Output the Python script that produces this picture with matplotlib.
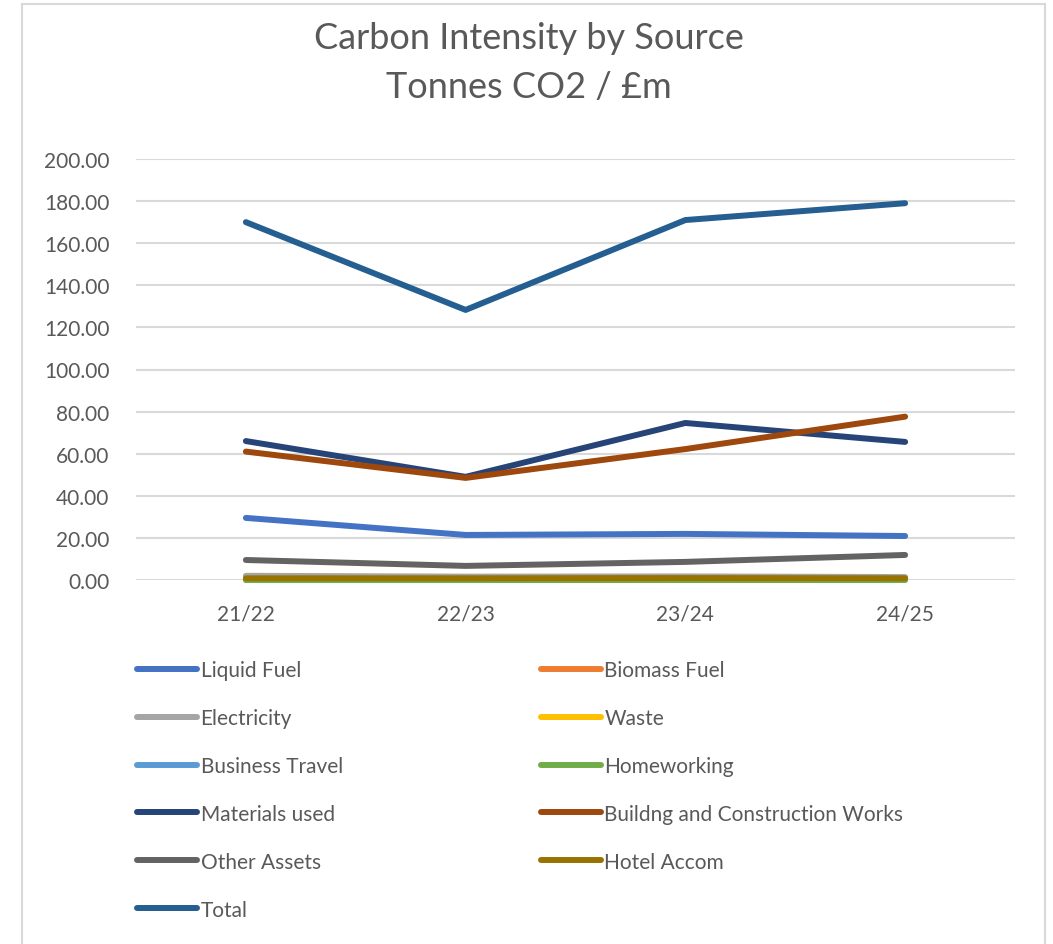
import matplotlib
matplotlib.use("Agg")
import matplotlib.pyplot as plt
from matplotlib.lines import Line2D

plt.rcParams['font.family'] = ['Lato', 'DejaVu Sans']

# Data
years = ["21/22", "22/23", "23/24", "24/25"]
liquid_fuel = [29.5, 21.4, 21.9, 20.9]
biomass_fuel = [0.0, 0.0, 0.0, 0.0]
electricity = [2.0, 1.6, 1.7, 1.4]
waste = [0.3, 0.3, 0.3, 0.3]
business_travel = [0.4, 0.5, 0.6, 0.6]
homeworking = [0.2, 0.2, 0.2, 0.2]
materials_used = [66.0, 49.0, 74.6, 65.6]
building_works = [61.0, 48.5, 62.2, 77.6]
other_assets = [9.5, 6.7, 8.6, 11.9]
hotel_accom = [0.8, 0.8, 0.9, 0.8]
total = [170.0, 128.3, 171.0, 179.0]

series = [
    ("Liquid Fuel", liquid_fuel, "#4472C4"),
    ("Biomass Fuel", biomass_fuel, "#ED7D31"),
    ("Electricity", electricity, "#A5A5A5"),
    ("Waste", waste, "#FFC000"),
    ("Business Travel", business_travel, "#5B9BD5"),
    ("Homeworking", homeworking, "#70AD47"),
    ("Materials used", materials_used, "#264478"),
    ("Buildng and Construction Works", building_works, "#9E480E"),
    ("Other Assets", other_assets, "#636363"),
    ("Hotel Accom", hotel_accom, "#997300"),
    ("Total", total, "#255E91"),
]

text_col = "#595959"
grid_col = "#D9D9D9"

fig = plt.figure(figsize=(10.53, 9.45), dpi=100)
ax = fig.add_axes([136 / 1053, 1 - 581 / 945, (1015 - 136) / 1053, (581 - 160) / 945])

x = list(range(len(years)))
handles = []
for name, vals, col in series:
    ln, = ax.plot(x, vals, color=col, lw=4.3, solid_capstyle='round',
                  solid_joinstyle='round', clip_on=False, label=name)
    handles.append(ln)

ax.set_xlim(-0.5, len(years) - 0.5)
ax.set_ylim(0, 200)
ax.set_yticks(range(0, 201, 20))
ax.set_yticklabels([f"{v:.2f}" for v in range(0, 201, 20)])
ax.set_xticks(x)
ax.set_xticklabels(years)
ax.tick_params(axis='both', length=0, labelsize=15, colors=text_col)
ax.tick_params(axis='y', pad=19)
ax.tick_params(axis='x', pad=17)
ax.yaxis.grid(True, color=grid_col, lw=1.5)
ax.set_axisbelow(True)
for s in ax.spines.values():
    s.set_visible(False)

fig.text(529 / 1053, 1 - 63 / 945, "Carbon Intensity by Source\nTonnes CO2 / £m",
         ha='center', va='center', fontsize=26, color=text_col, linespacing=1.58)

# legend: Excel fills row-wise, matplotlib column-wise
order = [0, 2, 4, 6, 8, 10, 1, 3, 5, 7, 9]
fig.legend([handles[i] for i in order], [series[i][0] for i in order],
           loc='upper left', bbox_to_anchor=(137 / 1053, 1 - 661 / 945),
           ncol=2, frameon=False, fontsize=15, labelcolor=text_col,
           handlelength=2.9, handletextpad=0.15, borderpad=0, borderaxespad=0,
           columnspacing=9.5, labelspacing=1.34)

# chart border
for xs, ys in [([22, 22], [945, 5]), ([22, 1045], [5, 5]), ([1045, 1045], [5, 945])]:
    fig.add_artist(Line2D([v / 1053 for v in xs], [1 - v / 945 for v in ys],
                          color=grid_col, lw=1.5))

fig.savefig("out.png", dpi=100, facecolor='white')
